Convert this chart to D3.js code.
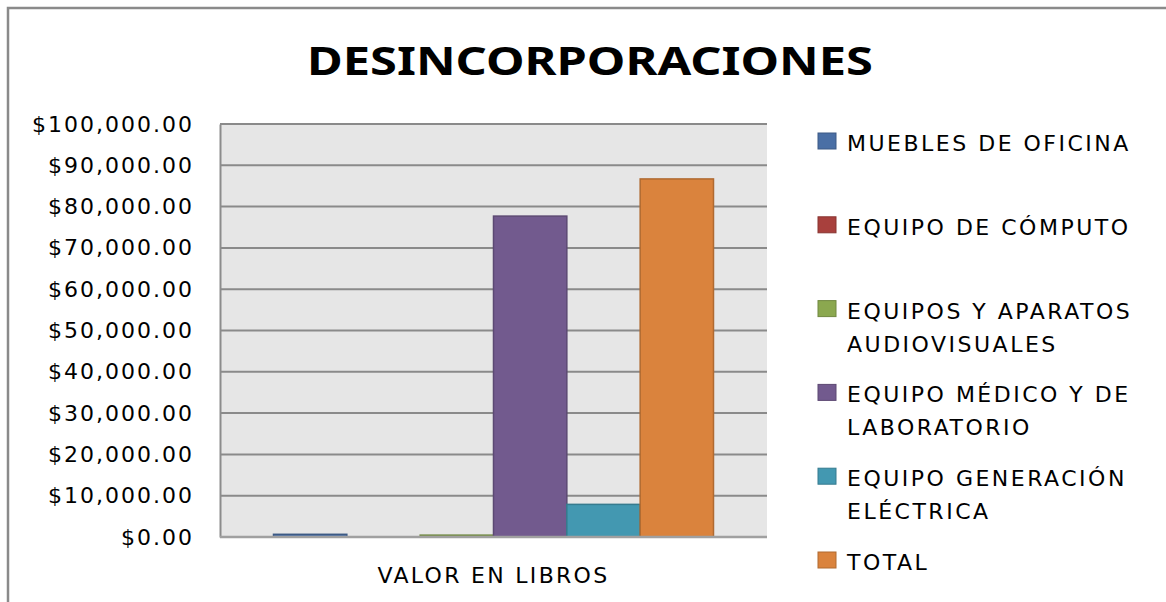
<!DOCTYPE html>
<html>
<head>
<meta charset="utf-8">
<script src="https://cdn.jsdelivr.net/npm/d3@7"></script>
<style>
  html, body { margin: 0; padding: 0; background: #fff; }
  svg { display: block; }
</style>
</head>
<body>
<div id="chart"></div>
<script>
// data
const categories = ["VALOR EN LIBROS"];
const seriesNames = [
    "MUEBLES DE OFICINA",
    "EQUIPO DE CÓMPUTO",
    "EQUIPOS Y APARATOS AUDIOVISUALES",
    "EQUIPO MÉDICO Y DE LABORATORIO",
    "EQUIPO GENERACIÓN ELÉCTRICA",
    "TOTAL"
];
const seriesValues = [650, 0, 450, 77700, 7900, 86700];
const legendLines = [
    ["MUEBLES DE OFICINA"],
    ["EQUIPO DE CÓMPUTO"],
    ["EQUIPOS Y APARATOS", "AUDIOVISUALES"],
    ["EQUIPO MÉDICO Y DE", "LABORATORIO"],
    ["EQUIPO GENERACIÓN", "ELÉCTRICA"],
    ["TOTAL"]
];
const seriesColors = ["#4A6FA5", "#A8403D", "#8BA84F", "#725A8E", "#4398B1", "#DA833D"];
const yTicks = [0, 10000, 20000, 30000, 40000, 50000, 60000, 70000, 80000, 90000, 100000];

const width = 1166, height = 602;
const plot = { left: 220, right: 767, top: 124, bottom: 537 };
const labelFont = "'DejaVu Sans', Verdana, sans-serif";

const svg = d3.select("#chart").append("svg")
    .attr("width", width)
    .attr("height", height);

// outer chart frame (runs off the right and bottom of the picture)
svg.append("path")
    .attr("d", `M8,${height + 5} V8 H${width + 5}`)
    .attr("fill", "none")
    .attr("stroke", "#8a8a8a")
    .attr("stroke-width", 2.5);

// title
svg.append("text")
    .attr("x", 307)
    .attr("y", 75)
    .attr("textLength", 566)
    .attr("lengthAdjust", "spacingAndGlyphs")
    .style("font-family", "'Noto Sans', 'Open Sans', sans-serif")
    .style("font-weight", "bold")
    .style("font-size", "39px")
    .style("fill", "#000")
    .text("DESINCORPORACIONES");

// scales
const x0 = d3.scaleBand()
    .domain(categories)
    .range([plot.left, plot.right])
    .paddingInner(0)
    .paddingOuter(0.1216);

const x1 = d3.scaleBand()
    .domain(seriesNames)
    .range([0, x0.bandwidth()])
    .padding(0);

const y = d3.scaleLinear()
    .domain([0, 100000])
    .range([plot.bottom, plot.top]);

// plot background
svg.append("rect")
    .attr("x", plot.left)
    .attr("y", plot.top)
    .attr("width", plot.right - plot.left)
    .attr("height", plot.bottom - plot.top)
    .attr("fill", "#e6e6e6");

// gridlines
svg.append("g")
    .selectAll("line")
    .data(yTicks)
    .enter().append("line")
    .attr("x1", plot.left)
    .attr("x2", plot.right)
    .attr("y1", d => y(d))
    .attr("y2", d => y(d))
    .attr("stroke", "#8a8a8a")
    .attr("stroke-width", 2);

// y axis
const yAxis = svg.append("g")
    .attr("transform", `translate(${plot.left},0)`)
    .call(d3.axisLeft(y).tickValues(yTicks).tickFormat(d3.format("$,.2f")).tickSize(0).tickPadding(26));

yAxis.select(".domain").attr("stroke", "#8c8c8c").attr("stroke-width", 2);
yAxis.selectAll("text")
    .style("font-family", labelFont)
    .style("font-size", "22px")
    .style("letter-spacing", "2px")
    .style("fill", "#000");

// bars
const groups = svg.append("g")
    .selectAll("g")
    .data(categories)
    .enter().append("g")
    .attr("transform", d => `translate(${x0(d)},0)`);

groups.selectAll("rect")
    .data(() => seriesNames.map((name, i) => ({ name, value: seriesValues[i], color: seriesColors[i] })))
    .enter().append("rect")
    .filter(d => d.value > 0)
    .attr("x", d => x1(d.name))
    .attr("width", x1.bandwidth())
    .attr("y", d => y(d.value))
    .attr("height", d => y(0) - y(d.value))
    .attr("fill", d => d.color)
    .attr("stroke", d => d3.color(d.color).darker(0.6))
    .attr("stroke-width", 1.5);

// base line
svg.append("line")
    .attr("x1", plot.left)
    .attr("x2", plot.right)
    .attr("y1", plot.bottom)
    .attr("y2", plot.bottom)
    .attr("stroke", "#a0a0a0")
    .attr("stroke-width", 2.5);

// x axis
const xAxis = svg.append("g")
    .attr("transform", `translate(0,${plot.bottom})`)
    .call(d3.axisBottom(x0).tickSize(0).tickPadding(30));
xAxis.select(".domain").remove();
xAxis.selectAll("text")
    .style("font-family", labelFont)
    .style("font-size", "22px")
    .style("letter-spacing", "2.3px")
    .style("fill", "#000");

// legend
const legendTop = 133, legendStep = 83.8;
const legend = svg.append("g")
    .selectAll("g")
    .data(legendLines)
    .enter().append("g")
    .attr("transform", (d, i) => `translate(818,${legendTop + i * legendStep})`);

legend.append("rect")
    .attr("width", 18)
    .attr("height", 16)
    .attr("fill", (d, i) => seriesColors[i])
    .attr("stroke", (d, i) => d3.color(seriesColors[i]).darker(0.6))
    .attr("stroke-width", 1);

legend.each(function (lines) {
    const t = d3.select(this).append("text")
        .style("font-family", labelFont)
        .style("font-size", "22px")
        .style("letter-spacing", "2.5px")
        .style("fill", "#000");
    lines.forEach((line, j) => {
        t.append("tspan")
            .attr("x", 29)
            .attr("y", 18 + j * 33)
            .text(line);
    });
});
</script>
</body>
</html>
